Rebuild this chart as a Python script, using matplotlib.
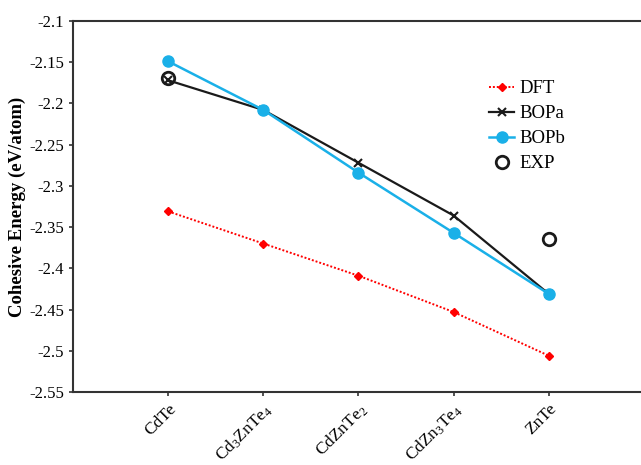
import matplotlib.pyplot as plt

# compounds along the x axis
compounds = ['CdTe', r'Cd$_3$ZnTe$_4$', r'CdZnTe$_2$', r'CdZn$_3$Te$_4$', 'ZnTe']
x = list(range(len(compounds)))

# cohesive energies (eV/atom)
dft = [-2.331, -2.370, -2.409, -2.453, -2.506]
bopa = [-2.172, -2.208, -2.272, -2.336, -2.431]
bopb = [-2.149, -2.208, -2.284, -2.357, -2.431]
exp_x = [0, 4]
exp_y = [-2.169, -2.364]

plt.rcParams['font.family'] = 'Liberation Serif'
plt.rcParams['mathtext.fontset'] = 'custom'
plt.rcParams['mathtext.rm'] = 'Liberation Serif'
plt.rcParams['mathtext.it'] = 'Liberation Serif'

fig = plt.figure(figsize=(6.41, 4.65), dpi=100)
ax = fig.add_axes([0.114, 0.157, 0.886, 0.798])

ax.plot(x, dft, color='#ff0000', linestyle=(0, (1, 1)), linewidth=1.4,
        marker='D', markersize=4, label='DFT')
ax.plot(x, bopa, color='#1a1a1a', linewidth=1.6, marker='x',
        markersize=6, markeredgewidth=1.5, label='BOPa')
ax.plot(x, bopb, color='#1ab0e8', linewidth=1.8, marker='o',
        markersize=8, label='BOPb')
ax.plot(exp_x, exp_y, linestyle='none', marker='o', markersize=9,
        markerfacecolor='none', markeredgecolor='#1a1a1a',
        markeredgewidth=2, label='EXP')

ax.set_xlim(-1, 4.97)
ax.set_ylim(-2.55, -2.1)
ax.set_yticks([-2.55, -2.5, -2.45, -2.4, -2.35, -2.3, -2.25, -2.2, -2.15, -2.1])
ax.set_yticklabels(['-2.55', '-2.5', '-2.45', '-2.4', '-2.35', '-2.3',
                    '-2.25', '-2.2', '-2.15', '-2.1'], fontsize=12)
ax.set_xticks(x)
ax.set_xticklabels(compounds, rotation=45, ha='right',
                   rotation_mode='anchor', fontsize=12.5)
ax.set_ylabel('Cohesive Energy (eV/atom)', fontsize=13.5, fontweight='bold',
              labelpad=2)

for s in ['left', 'bottom', 'top']:
    ax.spines[s].set_linewidth(1.5)
    ax.spines[s].set_color('#333333')
ax.spines['right'].set_visible(False)
ax.tick_params(direction='out', length=3, width=1.2, color='#333333')

ax.legend(loc='upper left', bbox_to_anchor=(0.72, 0.86), frameon=False,
          fontsize=13.5, handlelength=1.3, handletextpad=0.3,
          labelspacing=0.42, borderaxespad=0)

fig.savefig('out.png', dpi=100)
